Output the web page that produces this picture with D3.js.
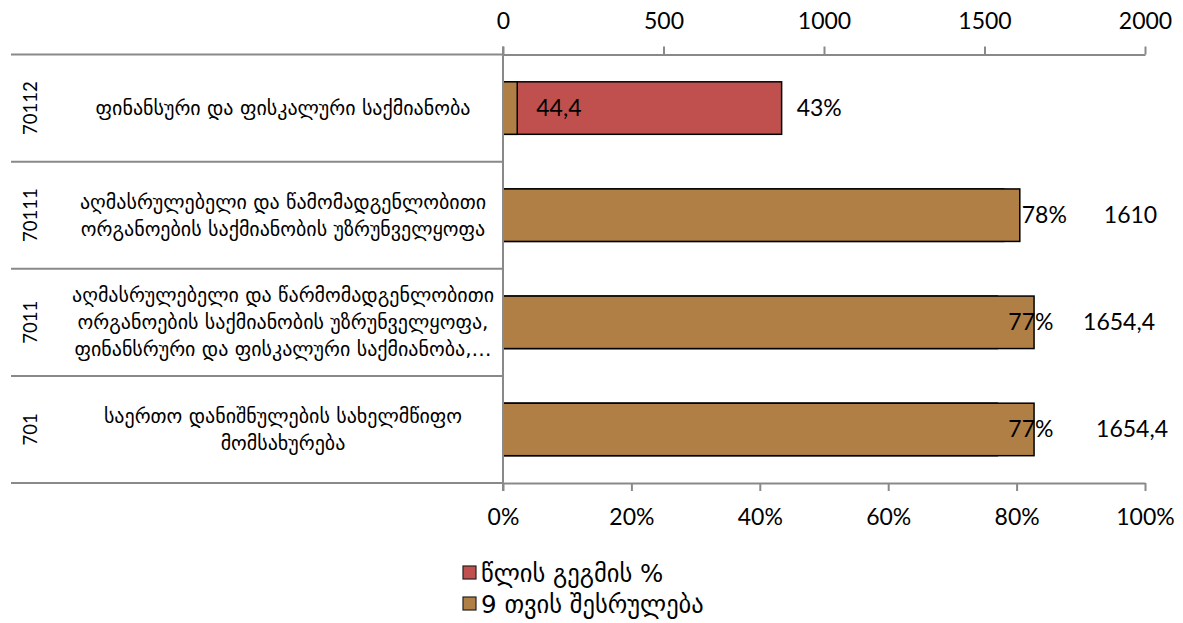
<!DOCTYPE html>
<html>
<head>
<meta charset="utf-8">
<script src="https://cdn.jsdelivr.net/npm/d3@7"></script>
<style>
  html, body { margin: 0; padding: 0; background: #fff; }
  svg { display: block; }
  .num { font-family: Lato, "Liberation Sans", sans-serif; fill: #000; }
  .geo { font-family: "DejaVu Sans", sans-serif; fill: #000; }
</style>
</head>
<body>
<svg id="chart" width="1183" height="623"></svg>
<script>
// Program codes (top to bottom) and their names, split into display lines
const codes = ["70112", "70111", "7011", "701"];
const nameLines = [
  ["ფინანსური და ფისკალური საქმიანობა"],
  ["აღმასრულებელი და წამომადგენლობითი", "ორგანოების საქმიანობის უზრუნველყოფა"],
  ["აღმასრულებელი და წარმომადგენლობითი", "ორგანოების საქმიანობის უზრუნველყოფა,", "ფინანსრური და ფისკალური საქმიანობა,…"],
  ["საერთო დანიშნულების სახელმწიფო", "მომსახურება"]
];

// Series
const seriesNames = ["წლის გეგმის %", "9 თვის შესრულება"];
const planShare = [0.434, 0.78, 0.77, 0.77];       // share of annual plan (bottom axis)
const nineMonths = [44.4, 1610, 1654.4, 1654.4];    // 9‑month execution (top axis)

// Axis ticks
const topTicks = [0, 500, 1000, 1500, 2000];
const bottomTicks = [0, 0.2, 0.4, 0.6, 0.8, 1.0];

// Label nudges (px from the end of each bar)
const shareLabelDx = [15, 18, 11, 11];
const valueLabelDx = [19, 84, 49, 62];

const colors = { share: "#C0504D", value: "#B07F45", axis: "#898989" };

const svg = d3.select("#chart");
const plot = { left: 503, right: 1145, top: 54.5, bottom: 483 };

const xVal = d3.scaleLinear().domain([0, 2000]).range([plot.left, plot.right]);
const xPct = d3.scaleLinear().domain([0, 1]).range([plot.left, plot.right]);
const y = d3.scaleBand().domain(codes).range([plot.top, plot.bottom])
  .paddingInner(0.51).paddingOuter(0.255);

const cellTop = c => y(c) - y.step() * y.paddingInner() / 2;
const cellMid = c => y(c) + y.bandwidth() / 2;

// Category grid on the left: horizontal separators
const seps = codes.map(cellTop).concat([plot.bottom]);
svg.append("g").selectAll("line").data(seps).join("line")
  .attr("x1", 11).attr("x2", plot.left)
  .attr("y1", d => d).attr("y2", d => d)
  .attr("stroke", colors.axis).attr("stroke-width", 2);

// Bars: share of plan underneath, 9‑month execution on top
const rows = codes.map((c, i) => ({ code: c, share: planShare[i], value: nineMonths[i], i }));

svg.append("g").selectAll("rect").data(rows).join("rect")
  .attr("x", xPct(0)).attr("y", d => y(d.code))
  .attr("width", d => xPct(d.share) - xPct(0)).attr("height", y.bandwidth())
  .attr("fill", colors.share).attr("stroke", "#000").attr("stroke-width", 1.5);

svg.append("g").selectAll("rect").data(rows).join("rect")
  .attr("x", xVal(0)).attr("y", d => y(d.code))
  .attr("width", d => xVal(d.value) - xVal(0)).attr("height", y.bandwidth())
  .attr("fill", colors.value).attr("stroke", "#000").attr("stroke-width", 1.5);

// Axes
const topAxis = svg.append("g").attr("transform", `translate(0,${plot.top})`)
  .call(d3.axisTop(xVal).tickValues(topTicks).tickFormat(d3.format("d"))
    .tickSize(8).tickPadding(18).tickSizeOuter(0));
const bottomAxis = svg.append("g").attr("transform", `translate(0,${plot.bottom})`)
  .call(d3.axisBottom(xPct).tickValues(bottomTicks).tickFormat(d3.format(".0%"))
    .tickSize(8).tickPadding(18).tickSizeOuter(0));
[topAxis, bottomAxis].forEach(g => {
  g.select(".domain").attr("stroke", colors.axis).attr("stroke-width", 2);
  g.selectAll(".tick line").attr("stroke", colors.axis).attr("stroke-width", 2);
  g.selectAll(".tick text").attr("class", "num").attr("font-size", 23).attr("fill", "#000");
});

// Vertical category axis line
svg.append("line")
  .attr("x1", plot.left).attr("x2", plot.left)
  .attr("y1", plot.top - 8).attr("y2", plot.bottom + 8)
  .attr("stroke", colors.axis).attr("stroke-width", 2);

// Data labels
const fmtPct = d3.format(".0%");
const fmtVal = v => String(v).replace(".", ",");
svg.append("g").selectAll("text").data(rows).join("text")
  .attr("class", "num").attr("font-size", 23)
  .attr("x", d => xPct(d.share) + shareLabelDx[d.i])
  .attr("y", d => cellMid(d.code)).attr("dy", "0.35em")
  .text(d => fmtPct(d.share));
svg.append("g").selectAll("text").data(rows).join("text")
  .attr("class", "num").attr("font-size", 23)
  .attr("x", d => xVal(d.value) + valueLabelDx[d.i])
  .attr("y", d => cellMid(d.code)).attr("dy", "0.35em")
  .text(d => fmtVal(d.value));

// Category labels: rotated codes and centred names
svg.append("g").selectAll("text").data(codes).join("text")
  .attr("class", "num").attr("font-size", 18.5)
  .attr("text-anchor", "middle")
  .attr("transform", c => `translate(37,${cellMid(c)}) rotate(-90)`)
  .text(c => c);

const lineH = 27;
const nameX = 283;
const nameG = svg.append("g").selectAll("text").data(codes).join("text")
  .attr("class", "geo").attr("font-size", 20).attr("text-anchor", "middle")
  .attr("x", nameX)
  .attr("y", (c, i) => cellMid(c) - (nameLines[i].length - 1) * lineH / 2);
nameG.each(function (c, i) {
  d3.select(this).selectAll("tspan").data(nameLines[i]).join("tspan")
    .attr("x", nameX).attr("dy", (d, j) => j === 0 ? "0.35em" : lineH)
    .text(d => d);
});

// Legend
const legend = svg.append("g").selectAll("g")
  .data([{ name: seriesNames[0], color: colors.share }, { name: seriesNames[1], color: colors.value }])
  .join("g").attr("transform", (d, i) => `translate(463,${566 + i * 31})`);
legend.append("rect").attr("width", 13).attr("height", 13)
  .attr("fill", d => d.color).attr("stroke", "#222").attr("stroke-width", 1.2);
legend.append("text").attr("class", "geo").attr("font-size", 24.5)
  .attr("x", 18).attr("y", 7).attr("dy", "0.35em").text(d => d.name);
</script>
</body>
</html>
